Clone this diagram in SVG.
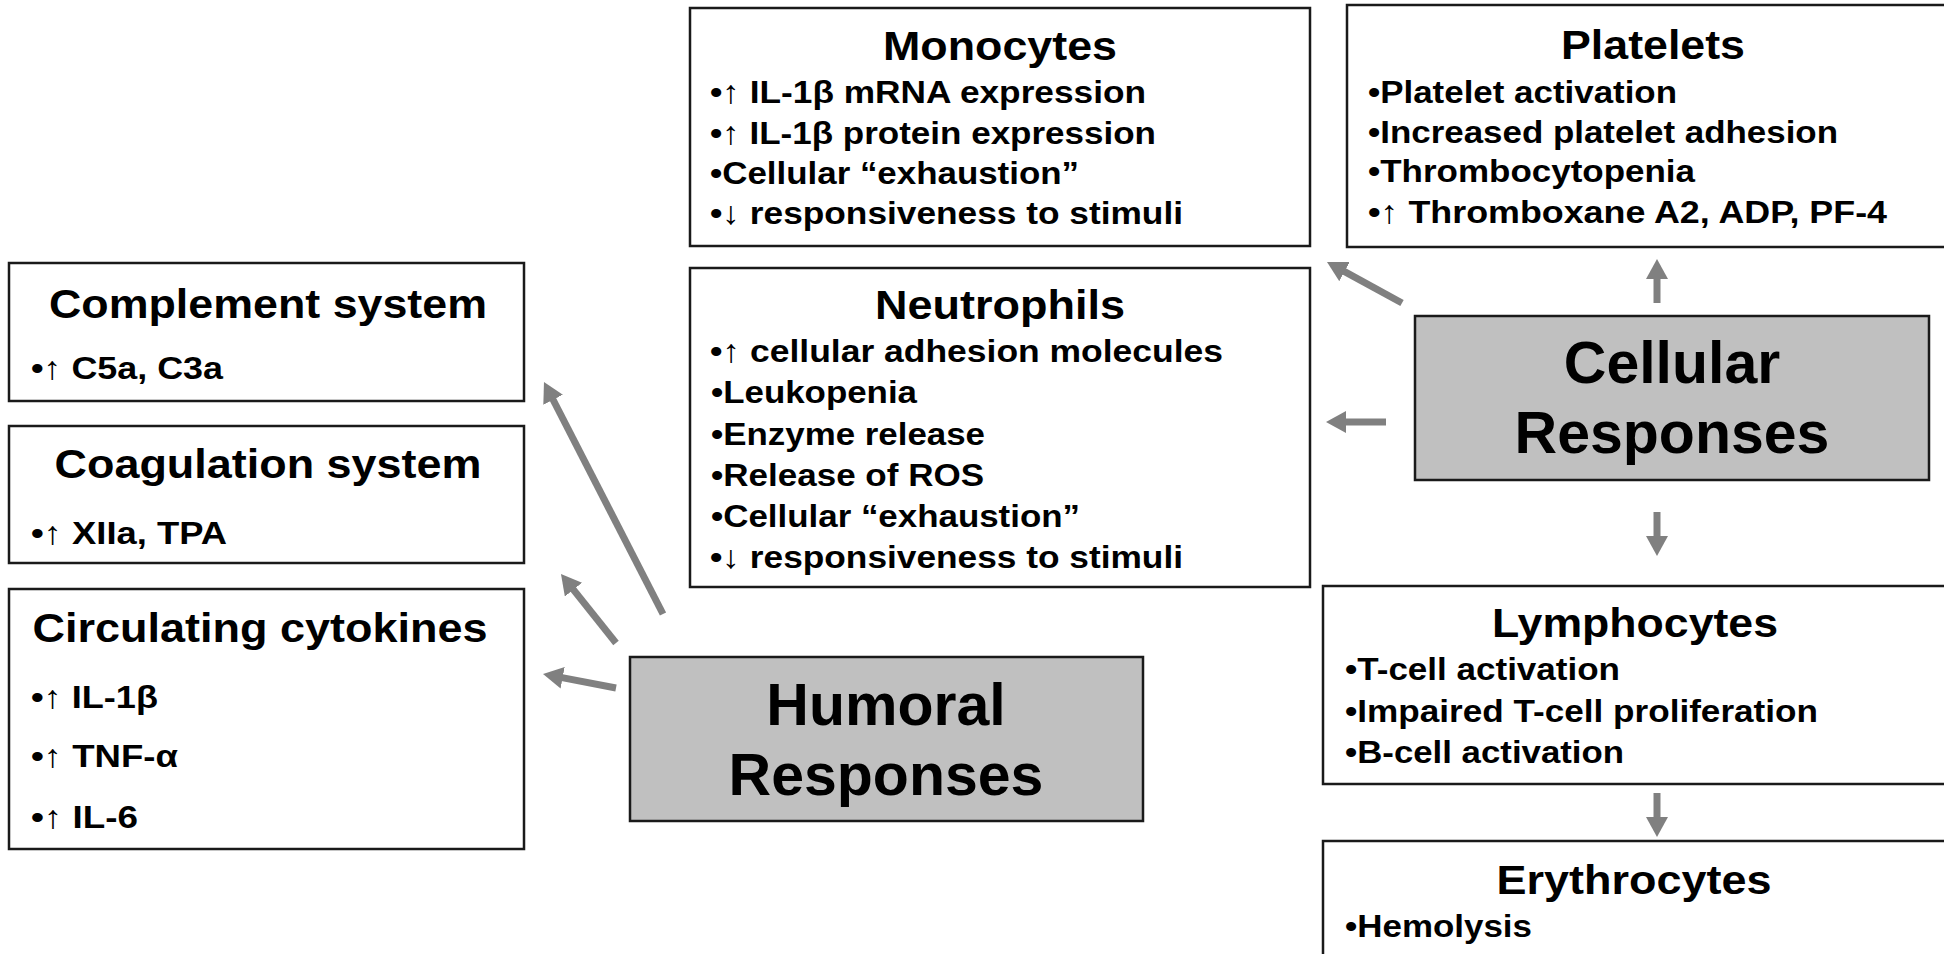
<svg xmlns="http://www.w3.org/2000/svg" width="1944" height="954" viewBox="0 0 1944 954">
<defs>
<style>
.box{fill:#fff;stroke:#1a1a1a;stroke-width:2.5}
.gbox{fill:#c0c0c0;stroke:#1a1a1a;stroke-width:2.5}
text{font-family:"Liberation Sans",Arial,sans-serif;font-weight:bold;fill:#000}
.t{font-size:40px;text-anchor:middle}
.b{font-size:32px}
.lb{font-size:32px}
.big{font-size:59px;text-anchor:middle}
.conn line{stroke:#808080;stroke-width:7}
</style>
<marker id="ah" markerUnits="userSpaceOnUse" markerWidth="24" markerHeight="24" viewBox="0 0 24 24" refX="2" refY="11" orient="auto">
<path d="M0,0 L20,11 L0,22 z" fill="#808080"/>
</marker>
</defs>
<rect width="1944" height="954" fill="#fff"/>
<g class="conn">
<line x1="663" y1="614" x2="552.2" y2="398" marker-end="url(#ah)"/>
<line x1="616" y1="643" x2="572.2" y2="588.1" marker-end="url(#ah)"/>
<line x1="616" y1="688" x2="560.7" y2="677.4" marker-end="url(#ah)"/>
<line x1="1402" y1="303" x2="1342.8" y2="270.6" marker-end="url(#ah)"/>
<line x1="1386" y1="422" x2="1344" y2="422" marker-end="url(#ah)"/>
<line x1="1657" y1="303" x2="1657" y2="277" marker-end="url(#ah)"/>
<line x1="1657" y1="512" x2="1657" y2="538" marker-end="url(#ah)"/>
<line x1="1657" y1="793" x2="1657" y2="819" marker-end="url(#ah)"/>
</g>
<g id="monocytes">
<rect class="box" x="690" y="8" width="620" height="238"/>
<text class="t" x="1000" y="60" textLength="234" lengthAdjust="spacingAndGlyphs">Monocytes</text>
<text class="b" x="710" y="103" textLength="436" lengthAdjust="spacingAndGlyphs">•↑ IL-1β mRNA expression</text>
<text class="b" x="710" y="144" textLength="446" lengthAdjust="spacingAndGlyphs">•↑ IL-1β protein expression</text>
<text class="b" x="710" y="184" textLength="369" lengthAdjust="spacingAndGlyphs">•Cellular “exhaustion”</text>
<text class="b" x="710" y="224" textLength="473" lengthAdjust="spacingAndGlyphs">•↓ responsiveness to stimuli</text>
</g>
<g id="neutrophils">
<rect class="box" x="690" y="268" width="620" height="319"/>
<text class="t" x="1000" y="319" textLength="250" lengthAdjust="spacingAndGlyphs">Neutrophils</text>
<text class="b" x="710" y="362" textLength="513" lengthAdjust="spacingAndGlyphs">•↑ cellular adhesion molecules</text>
<text class="b" x="711" y="403" textLength="206" lengthAdjust="spacingAndGlyphs">•Leukopenia</text>
<text class="b" x="711" y="445" textLength="274" lengthAdjust="spacingAndGlyphs">•Enzyme release</text>
<text class="b" x="711" y="486" textLength="273" lengthAdjust="spacingAndGlyphs">•Release of ROS</text>
<text class="b" x="711" y="527" textLength="369" lengthAdjust="spacingAndGlyphs">•Cellular “exhaustion”</text>
<text class="b" x="710" y="568" textLength="473" lengthAdjust="spacingAndGlyphs">•↓ responsiveness to stimuli</text>
</g>
<g id="platelets">
<rect class="box" x="1347" y="5" width="620" height="242"/>
<text class="t" x="1653" y="59" textLength="184" lengthAdjust="spacingAndGlyphs">Platelets</text>
<text class="b" x="1368" y="103" textLength="309" lengthAdjust="spacingAndGlyphs">•Platelet activation</text>
<text class="b" x="1368" y="143" textLength="470" lengthAdjust="spacingAndGlyphs">•Increased platelet adhesion</text>
<text class="b" x="1368" y="182" textLength="327" lengthAdjust="spacingAndGlyphs">•Thrombocytopenia</text>
<text class="b" x="1368" y="223" textLength="519" lengthAdjust="spacingAndGlyphs">•↑ Thromboxane A2, ADP, PF-4</text>
</g>
<g id="cellular">
<rect class="gbox" x="1415" y="316" width="514" height="164"/>
<text class="big" x="1672" y="383">Cellular</text>
<text class="big" x="1672" y="453">Responses</text>
</g>
<g id="lymphocytes">
<rect class="box" x="1323" y="586" width="640" height="198"/>
<text class="t" x="1635" y="637" textLength="286" lengthAdjust="spacingAndGlyphs">Lymphocytes</text>
<text class="b" x="1345" y="680" textLength="275" lengthAdjust="spacingAndGlyphs">•T-cell activation</text>
<text class="b" x="1345" y="722" textLength="473" lengthAdjust="spacingAndGlyphs">•Impaired T-cell proliferation</text>
<text class="b" x="1345" y="763" textLength="279" lengthAdjust="spacingAndGlyphs">•B-cell activation</text>
</g>
<g id="erythrocytes">
<rect class="box" x="1323" y="841" width="640" height="130"/>
<text class="t" x="1634" y="894" textLength="275" lengthAdjust="spacingAndGlyphs">Erythrocytes</text>
<text class="b" x="1345" y="937" textLength="187" lengthAdjust="spacingAndGlyphs">•Hemolysis</text>
</g>
<g id="complement">
<rect class="box" x="9" y="263" width="515" height="138"/>
<text class="t" x="268" y="318" textLength="438" lengthAdjust="spacingAndGlyphs">Complement system</text>
<text class="lb" x="31" y="379" textLength="192" lengthAdjust="spacingAndGlyphs">•↑ C5a, C3a</text>
</g>
<g id="coagulation">
<rect class="box" x="9" y="426" width="515" height="137"/>
<text class="t" x="268" y="478" textLength="427" lengthAdjust="spacingAndGlyphs">Coagulation system</text>
<text class="lb" x="31" y="544" textLength="196" lengthAdjust="spacingAndGlyphs">•↑ XIIa, TPA</text>
</g>
<g id="cytokines">
<rect class="box" x="9" y="589" width="515" height="260"/>
<text class="t" x="260" y="642" textLength="455" lengthAdjust="spacingAndGlyphs">Circulating cytokines</text>
<text class="lb" x="31" y="708" textLength="127" lengthAdjust="spacingAndGlyphs">•↑ IL-1β</text>
<text class="lb" x="31" y="767" textLength="147" lengthAdjust="spacingAndGlyphs">•↑ TNF-α</text>
<text class="lb" x="31" y="828" textLength="107" lengthAdjust="spacingAndGlyphs">•↑ IL-6</text>
</g>
<g id="humoral">
<rect class="gbox" x="630" y="657" width="513" height="164"/>
<text class="big" x="886" y="725">Humoral</text>
<text class="big" x="886" y="795">Responses</text>
</g>
</svg>
